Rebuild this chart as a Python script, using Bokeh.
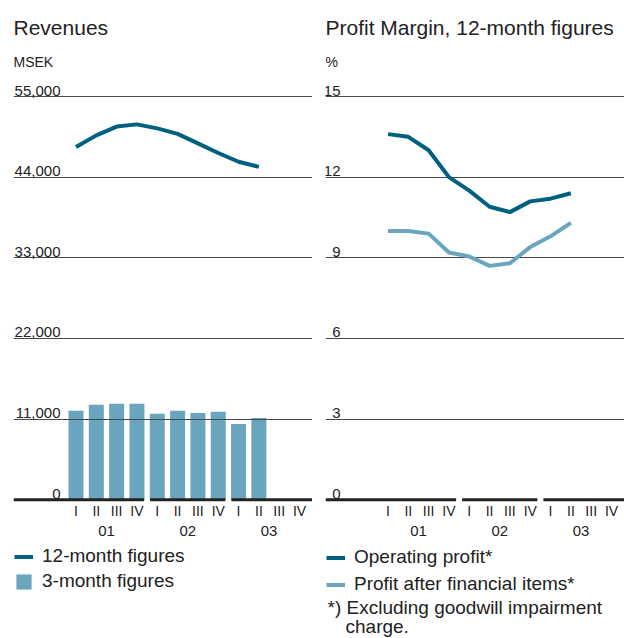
from bokeh.plotting import figure
from bokeh.models import Range1d, FixedTicker, Grid, Legend, LegendItem, Label, Title
from bokeh.layouts import row
from bokeh.embed import file_html
from bokeh.resources import INLINE
from bokeh.core.properties import value

# ---------------- data ----------------
quarters = ["I", "II", "III", "IV"]
years = ["01", "02", "03"]

revenue_3m = [12150, 12950, 13100, 13100, 11750, 12150, 11850, 12000, 10350, 11150]
revenue_12m = [48100, 49700, 50900, 51200, 50650, 49900, 48600, 47300, 46100, 45400]
rev_ticks = [0, 11000, 22000, 33000, 44000, 55000]
rev_tick_labels = ["0", "11,000", "22,000", "33,000", "44,000", "55,000"]

operating_margin = [13.6, 13.5, 13.0, 12.0, 11.5, 10.9, 10.7, 11.1, 11.2, 11.4]
pafi_margin = [10.0, 10.0, 9.9, 9.2, 9.05, 8.7, 8.8, 9.4, 9.8, 10.3]
margin_ticks = [0, 3, 6, 9, 12, 15]
margin_tick_labels = ["0", "3", "6", "9", "12", "15"]

# ---------------- style / layout ----------------
FONT = "Liberation Sans"
TXT = "#222222"
DARK = "#00607f"
LIGHT = "#69a5be"
GRID = "#484848"

FIG_W = 312
FIG_H = 638
BORDER_LEFT = 13
FRAME_TOP = 75           # px from figure top to frame top
FRAME_H = FIG_H - FRAME_TOP
TOP_TICK_PX = 21         # frame top -> highest gridline
ZERO_FROM_TOP = 424.3    # frame top -> zero line
SLOT_PX = 20.32
FIRST_SLOT_PX = 62.5     # frame left -> first quarter centre

n_slots = len(quarters) * len(years)
slot_x = list(range(n_slots))
slot_labels = [q for _ in years for q in quarters]
year_centres = [k * len(quarters) + (len(quarters) - 1) / 2 for k in range(len(years))]


def make_panel(title, unit, ticks, tick_labels, label_right_px):
    frame_w = FIG_W - BORDER_LEFT
    x0 = -FIRST_SLOT_PX / SLOT_PX
    x1 = x0 + frame_w / SLOT_PX
    top = ticks[-1]
    per_px = top / (ZERO_FROM_TOP - TOP_TICK_PX)
    y1 = top + TOP_TICK_PX * per_px
    y0 = y1 - FRAME_H * per_px

    p = figure(width=FIG_W, height=FIG_H, output_backend="svg", toolbar_location=None,
               x_range=Range1d(x0, x1), y_range=Range1d(y0, y1),
               min_border_left=BORDER_LEFT, min_border_right=0,
               min_border_top=FRAME_TOP, min_border_bottom=0,
               x_axis_type=None, y_axis_type=None, outline_line_color=None,
               title=title)
    p.title.text_font = FONT
    p.title.text_font_size = "21px"
    p.title.text_font_style = "normal"
    p.title.text_color = TXT
    p.title.standoff = 14
    sub = Title(text=unit, text_font=FONT, text_font_size="14px", text_font_style="normal",
                text_color=TXT, standoff=12)
    p.add_layout(sub, "above")

    p.add_layout(Grid(dimension=1, ticker=FixedTicker(ticks=ticks[1:]),
                      grid_line_color=GRID, grid_line_width=1))

    # value labels, sitting on their gridlines
    p.text(x=[x0] * len(ticks), y=ticks, text=tick_labels, x_offset=label_right_px,
           y_offset=-6, text_align="right", text_baseline="alphabetic",
           text_font=value(FONT), text_font_size="15px", text_color=TXT)

    # quarter and year labels under the zero line
    p.text(x=slot_x, y=[0] * n_slots, text=slot_labels, y_offset=11.5,
           text_align="center", text_baseline="middle",
           text_font=value(FONT), text_font_size="14px", text_color=TXT)
    p.text(x=year_centres, y=[0] * len(years), text=years, y_offset=31.5,
           text_align="center", text_baseline="middle",
           text_font=value(FONT), text_font_size="15px", text_color=TXT)

    # broken zero baseline, one piece per year
    gap = 3 / SLOT_PX
    xs0, xs1 = [], []
    for k in range(len(years)):
        a = k * len(quarters) - 0.5 + gap
        b = (k + 1) * len(quarters) - 0.5 - gap
        xs0.append(x0 if k == 0 else a)
        xs1.append(x1 if k == len(years) - 1 else b)
    p.segment(x0=xs0, y0=[0] * len(xs0), x1=xs1, y1=[0] * len(xs0),
              line_color=TXT, line_width=3)
    return p


def legend(items, x, y, spacing):
    return Legend(items=items, location=(x, y), orientation="vertical", margin=0,
                  padding=3, spacing=spacing, glyph_width=19, glyph_height=19,
                  label_standoff=9, label_text_font=FONT, label_text_font_size="19px",
                  label_text_color=TXT, border_line_color=None, background_fill_alpha=0)


# ---------------- left: revenues ----------------
p1 = make_panel("Revenues", "MSEK", rev_ticks, rev_tick_labels, 47)
bars = p1.vbar(x=slot_x[:len(revenue_3m)], top=revenue_3m, width=15 / SLOT_PX,
               fill_color=LIGHT, line_color=None, level="underlay")
rline = p1.line(x=slot_x[:len(revenue_12m)], y=revenue_12m, line_color=DARK, line_width=4)
p1.add_layout(legend([LegendItem(label=value("12-month figures"), renderers=[rline]),
                      LegendItem(label=value("3-month figures"), renderers=[bars])],
                     1, 46, 3))

# ---------------- right: profit margin ----------------
p2 = make_panel("Profit Margin, 12-month figures", "%", margin_ticks, margin_tick_labels, 15)
l_op = p2.line(x=slot_x[:len(operating_margin)], y=operating_margin, line_color=DARK, line_width=4)
l_pa = p2.line(x=slot_x[:len(pafi_margin)], y=pafi_margin, line_color=LIGHT, line_width=4)
p2.add_layout(legend([LegendItem(label=value("Operating profit*"), renderers=[l_op]),
                      LegendItem(label=value("Profit after financial items*"), renderers=[l_pa])],
                     1, 43, 5))
p2.add_layout(Label(x=2, y=31, x_units="screen", y_units="screen",
                    text="*) Excluding goodwill impairment", text_baseline="middle",
                    text_font=FONT, text_font_size="19px", text_color=TXT))
p2.add_layout(Label(x=20, y=12, x_units="screen", y_units="screen",
                    text="charge.", text_baseline="middle",
                    text_font=FONT, text_font_size="19px", text_color=TXT))

layout = row(p1, p2)
open("out.html", "w").write(file_html(layout, INLINE))
